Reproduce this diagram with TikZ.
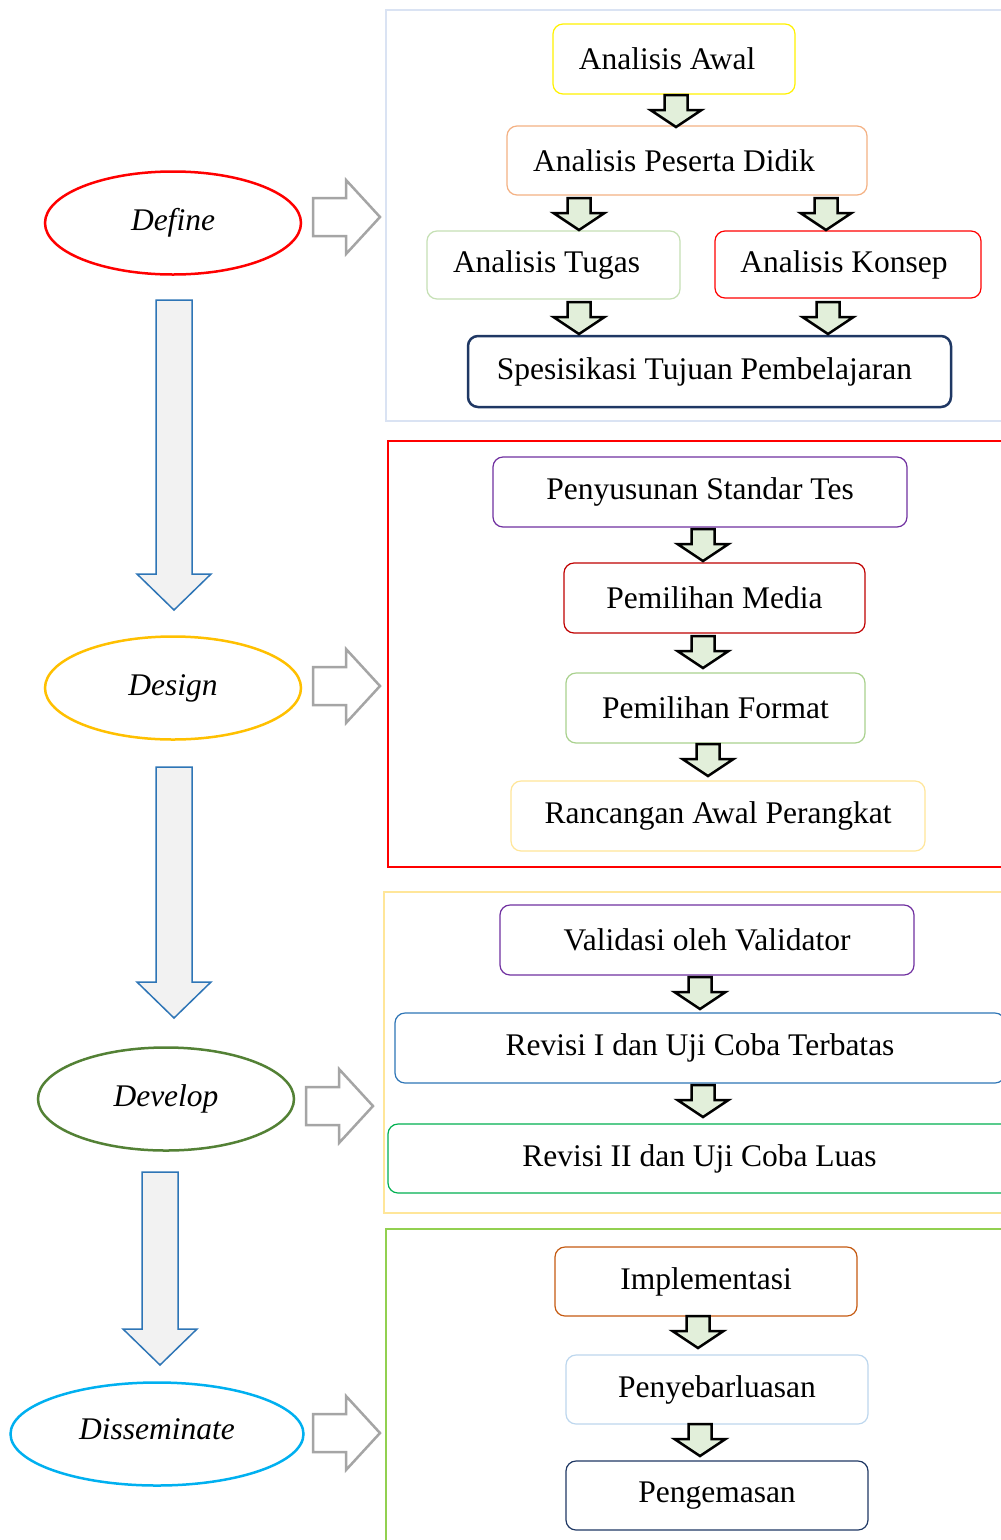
\documentclass[tikz,border=0pt]{standalone}
\usepackage{fontspec}
\setmainfont{Liberation Serif}
\usetikzlibrary{shapes.geometric}
\definecolor{pA}{HTML}{DAE3F3}
\definecolor{cPes}{HTML}{F4B183}
\definecolor{cTug}{HTML}{C5E0B4}
\definecolor{cNavy}{HTML}{1F3864}
\definecolor{cPurp}{HTML}{7030A0}
\definecolor{cDRed}{HTML}{C00000}
\definecolor{cFmt}{HTML}{A9D18E}
\definecolor{cLYel}{HTML}{FFE699}
\definecolor{cBlue}{HTML}{2E75B6}
\definecolor{cGrn}{HTML}{00B050}
\definecolor{cLGrn}{HTML}{92D050}
\definecolor{cImp}{HTML}{C55A11}
\definecolor{cPeny}{HTML}{BDD7EE}
\definecolor{cGold}{HTML}{FFC000}
\definecolor{cDev}{HTML}{538135}
\definecolor{cCyan}{HTML}{00B0F0}
\definecolor{cArrF}{HTML}{E2EFDA}
\definecolor{cBigF}{HTML}{F2F2F2}
\definecolor{cGrey}{HTML}{A5A5A5}
\tikzset{
  boxn/.style={draw, rounded corners=10pt, line width=1.2pt, inner sep=0pt, font=\fontsize{31.5}{36}\selectfont},
  ell/.style={ellipse, draw, line width=2.5pt, minimum width=256pt, minimum height=103pt, inner sep=0pt, font=\fontsize{31.5}{36}\selectfont\itshape},
  panel/.style={line width=2.5pt},
  sarrow/.style={draw=black, fill=cArrF, line width=2.5pt, line join=miter},
  bigarrow/.style={draw=cBlue, fill=cBigF, line width=1.5pt},
  rarrow/.style={draw=cGrey, fill=white, line width=2.5pt},
}
% small down arrow: x center, y top
\newcommand\sarr[2]{\draw[sarrow] (#1,#2) ++(-11.5,0) -- ++(23,0) -- ++(0,15) -- ++(14,0) -- ++(-25.5,17) -- ++(-25.5,-17) -- ++(14,0) -- cycle;}
% big down arrow: x center, y top, y head start
\newcommand\barr[3]{\draw[bigarrow] (#1-18,#2) -- (#1+18,#2) -- (#1+18,#3) -- (#1+37,#3) -- (#1,#3+36) -- (#1-37,#3) -- (#1-18,#3) -- cycle;}
% right arrow: x left, y center
\newcommand\rarr[2]{\draw[rarrow] (#1,#2-19) -- (#1+33,#2-19) -- (#1+33,#2-37) -- (#1+67,#2) -- (#1+33,#2+37) -- (#1+33,#2+19) -- (#1,#2+19) -- cycle;}
\begin{document}
\begin{tikzpicture}[x=1pt,y=-1pt]
\useasboundingbox (0,0) rectangle (1001,1540);
\fill[white] (0,0) rectangle (1001,1540);

% panels
\draw[panel, draw=pA] (1030,10) -- (386,10) -- (386,421) -- (1030,421);
\draw[panel, draw=red] (1030,441) -- (388,441) -- (388,867) -- (1030,867);
\draw[panel, draw=cLYel] (1030,892) -- (384,892) -- (384,1213) -- (1030,1213);
\draw[panel, draw=cLGrn] (1030,1229) -- (386,1229) -- (386,1560);

% ellipses
\node[ell, draw=red] (define) at (173,223) {\raisebox{6pt}{Define}};
\node[ell, draw=cGold] (design) at (173,688) {\raisebox{6pt}{Design}};
\node[ell, draw=cDev] (develop) at (166,1099) {\raisebox{6pt}{Develop}};
\node[ell, draw=cCyan, minimum width=293pt] (dissem) at (157,1434) {\raisebox{9pt}{Disseminate}};

% big arrows
\barr{174}{300}{574}
\barr{174}{767}{982}
\barr{160}{1172}{1329}

% right arrows
\rarr{313}{217}
\rarr{313}{686}
\rarr{306}{1106}
\rarr{313}{1433}

% panel 1
\node[boxn, draw=yellow, minimum width=242pt, minimum height=70pt] (aw) at (674,59) {Analisis Awal\kern14pt};
\node[boxn, draw=cPes, minimum width=360pt, minimum height=69pt] (pd) at (687,160.5) {Analisis Peserta Didik\kern26pt};
\node[boxn, draw=cTug, minimum width=253pt, minimum height=68pt] (tg) at (553.5,265) {Analisis Tugas\kern14pt};
\node[boxn, draw=red, minimum width=266pt, minimum height=67pt] (ks) at (848,264.5) {Analisis Konsep\kern8pt};
\node[boxn, draw=cNavy, line width=2.5pt, minimum width=483pt, minimum height=71pt] (sp) at (709.5,371.5) {Spesisikasi Tujuan Pembelajaran\kern10pt};
\sarr{676}{95}
\sarr{579}{198}
\sarr{826}{198}
\sarr{579}{302}
\sarr{828}{302}

% panel 2
\node[boxn, draw=cPurp, minimum width=414pt, minimum height=70pt] (st) at (700,492) {Penyusunan Standar Tes};
\node[boxn, draw=cDRed, minimum width=301pt, minimum height=70pt] (me) at (714.5,598) {Pemilihan Media};
\node[boxn, draw=cFmt, minimum width=299pt, minimum height=70pt] (fo) at (715.5,708) {Pemilihan Format};
\node[boxn, draw=cLYel, minimum width=414pt, minimum height=70pt] (ra) at (718,816) {Rancangan Awal Perangkat};
\sarr{703}{529}
\sarr{703}{636}
\sarr{708}{744}

% panel 3
\node[boxn, draw=cPurp, minimum width=414pt, minimum height=70pt] (va) at (707,940) {Validasi oleh Validator};
\node[boxn, draw=cBlue, minimum width=610pt, minimum height=70pt] (r1) at (700,1048) {Revisi I dan Uji Coba Terbatas};
\node[boxn, draw=cGrn, minimum width=626pt, minimum height=69pt] (r2) at (701,1158.5) {};
\node[font=\fontsize{31.5}{36}\selectfont] (r2t) at (699.5,1158.5) {Revisi II dan Uji Coba Luas};
\sarr{700}{977}
\sarr{703}{1085}

% panel 4
\node[boxn, draw=cImp, minimum width=302pt, minimum height=69pt] (im) at (706,1281.5) {Implementasi};
\node[boxn, draw=cPeny, minimum width=302pt, minimum height=69pt] (pb) at (717,1389.5) {Penyebarluasan};
\node[boxn, draw=cNavy, minimum width=302pt, minimum height=69pt] (pg) at (717,1495.5) {Pengemasan};
\sarr{698}{1316}
\sarr{700}{1424}
\end{tikzpicture}
\end{document}
